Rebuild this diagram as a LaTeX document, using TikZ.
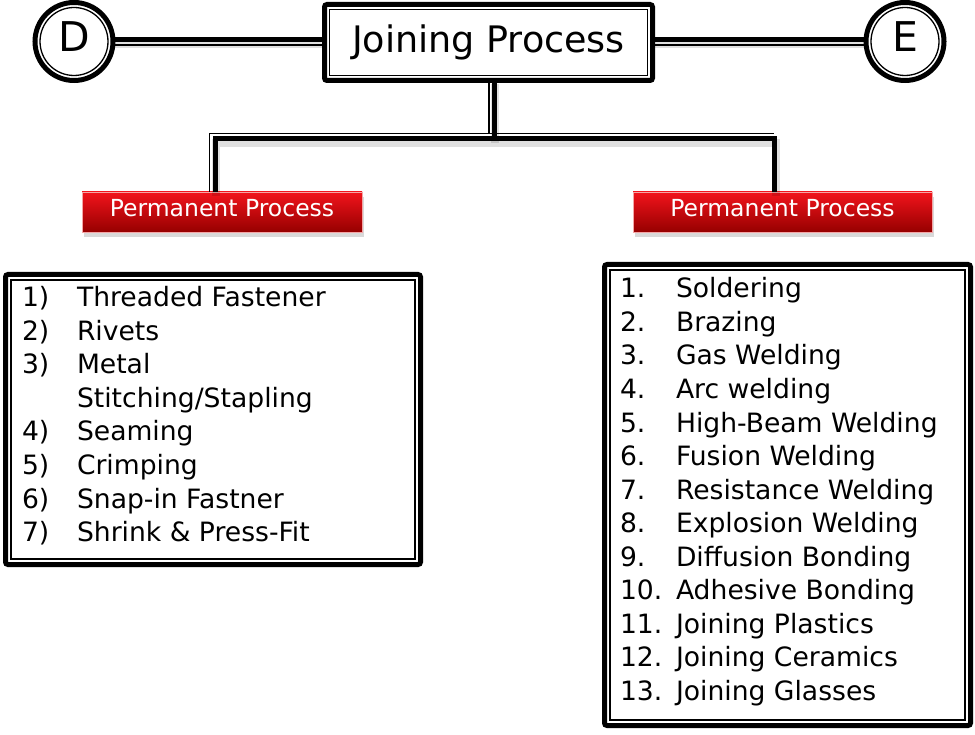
\documentclass[tikz,border=0pt]{standalone}
\usepackage{fontspec}
\setmainfont{DejaVu Sans}
\usetikzlibrary{shadows}
\definecolor{rtop}{HTML}{F2141C}
\definecolor{rbot}{HTML}{960000}
\definecolor{rline}{HTML}{F4A6A6}
\begin{document}
\begin{tikzpicture}[x=1pt,y=-1pt,
  thickln/.style={line width=5pt, preaction={draw=black, opacity=0.12, line width=8pt, transform canvas={shift={(1,4)}}}},
  thinln/.style={line width=1.3pt},
  dblbox/.style={draw, line width=5pt, fill=white, rounded corners=2.5pt, inner sep=0pt, outer sep=0pt},
  ring/.style={circle, draw, line width=5pt, fill=white, inner sep=0pt, outer sep=0pt, minimum size=78pt,
    font=\fontsize{41}{41}\selectfont, text height=30pt, text depth=10pt},
  redbox/.style={draw=rline, line width=0.9pt, top color=rtop, bottom color=rbot, text=white,
    font=\fontsize{23.5}{23.5}\selectfont, minimum height=40pt, inner sep=0pt, outer sep=0pt,
    text height=17pt, text depth=7pt,
    drop shadow={opacity=0.3, shadow xshift=2pt, shadow yshift=-5pt}},
  item/.style={anchor=base west, inner sep=0pt, outer sep=0pt, font=\fontsize{26.6}{26.6}\selectfont},
]
\useasboundingbox (0,0) rectangle (975,735);

% top row
\node[dblbox, minimum width=328pt, minimum height=76pt,
      font=\fontsize{36.5}{36.5}\selectfont] (J) at (488.5,42.5) {Joining Process};
\draw[thinln] ([shift={(5,5)}]J.north west) rectangle ([shift={(-5,-5)}]J.south east);
\node[ring] (D) at (74,41.5) {D};
\draw[thinln] (D.center) circle (34pt);
\node[ring] (E) at (905,41.5) {E};
\draw[thinln] (E.center) circle (34pt);

% red headers
\node[redbox, minimum width=280pt] (P1) at (222,212) {Permanent Process};
\node[redbox, minimum width=299pt] (P2) at (782.5,212) {Permanent Process};

% list boxes
\node[dblbox, minimum width=415pt, minimum height=290pt] (LB) at (213,419.5) {};
\draw[thinln] ([shift={(5.5,5.5)}]LB.north west) rectangle ([shift={(-5.5,-5.5)}]LB.south east);
\node[dblbox, minimum width=366pt, minimum height=461pt] (RB) at (787.5,495) {};
\draw[thinln] ([shift={(5.5,5.5)}]RB.north west) rectangle ([shift={(-5.5,-5.5)}]RB.south east);

% connectors
\coordinate (hub) at (494,139);
\coordinate (lc) at (215,139);
\coordinate (rc) at (774.5,139);
\draw[thickln] (D.east |- 0,40) -- (J.west |- 0,40);
\draw[thinln] (D.east |- 0,45) -- (J.west |- 0,45);
\draw[thickln] (J.east |- 0,40) -- (E.west |- 0,40);
\draw[thinln] (J.east |- 0,45) -- (E.west |- 0,45);
\draw[thickln] (J.south -| hub) -- (hub);
\draw[thickln] (P1.north -| lc) -- (lc) -- (rc) -- (P2.north -| rc);
\draw[thinln] ([shift={(-5,0)}]J.south -| hub) -- ([shift={(-5,-5.5)}]hub);
\draw[thinln] ([shift={(-5.5,0)}]P1.north -| lc) -- ([shift={(-5.5,-5.5)}]lc) -- ([shift={(-1,-5.5)}]rc);

% left list
\foreach \n/\t [count=\i] in {1)/Threaded Fastener, 2)/Rivets, 3)/Metal, {}/{Stitching/Stapling},
  4)/Seaming, 5)/Crimping, 6)/Snap-in Fastner, 7)/{Shrink \& Press-Fit}} {
  \node[item] (ln\i) at (22,{306.5+33.6*(\i-1)}) {\n};
  \node[item] (lt\i) at (77,{306.5+33.6*(\i-1)}) {\t};
}
% right list
\foreach \n/\t [count=\i] in {1./Soldering, 2./Brazing, 3./Gas Welding, 4./Arc welding,
  5./High-Beam Welding, 6./Fusion Welding, 7./Resistance Welding, 8./Explosion Welding,
  9./Diffusion Bonding, 10./Adhesive Bonding, 11./Joining Plastics, 12./Joining Ceramics,
  13./Joining Glasses} {
  \node[item] (rn\i) at (620,{298+33.5*(\i-1)}) {\n};
  \node[item] (rt\i) at (676,{298+33.5*(\i-1)}) {\t};
}
\end{tikzpicture}
\end{document}
